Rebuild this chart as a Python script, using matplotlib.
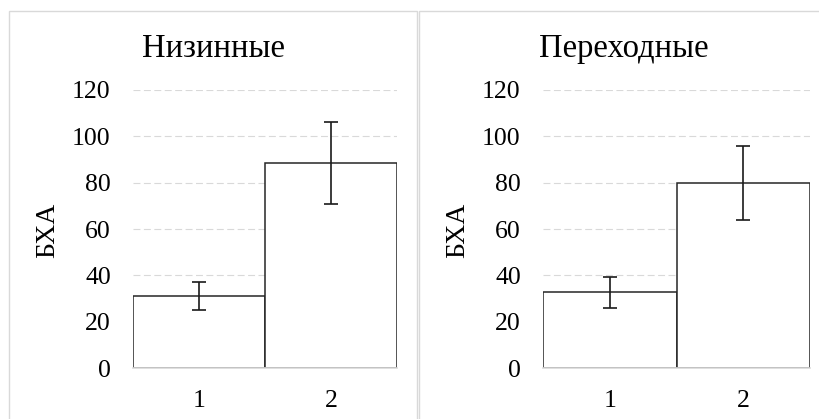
import matplotlib
matplotlib.use("Agg")
import matplotlib.pyplot as plt
from matplotlib.patches import Rectangle

plt.rcParams['font.family'] = ['Liberation Serif', 'DejaVu Serif']
plt.rcParams['lines.scale_dashes'] = False

titles = ["Низинные", "Переходные"]
categories = ["1", "2"]
values = [[31.1, 88.6], [32.7, 80.0]]
errors = [[6.2, 17.6], [6.6, 16.0]]
yticks = [0, 20, 40, 60, 80, 100, 120]
ylabel = "БХА"

W, H = 819, 419
fig = plt.figure(figsize=(W / 100, H / 100), dpi=100)

# panel borders
border = '#d9d9d9'
fig.patches.append(Rectangle((9 / W, -0.1), (417 - 9) / W, 1.1 - 11 / H, transform=fig.transFigure,
                             fill=False, edgecolor=border, linewidth=1.0))
fig.patches.append(Rectangle((419 / W, -0.1), 1.0, 1.1 - 11 / H, transform=fig.transFigure,
                             fill=False, edgecolor=border, linewidth=1.0))

axes_px = [(133, 397), (543, 810)]
title_cx = [213, 624]
ylabel_cx = [48, 458]
ax_bottom, ax_top = 368, 90

for i in range(2):
    x0, x1 = axes_px[i]
    ax = fig.add_axes([x0 / W, (H - ax_bottom) / H, (x1 - x0) / W, (ax_bottom - ax_top) / H])
    pos = list(range(len(categories)))
    ax.bar(pos, values[i], width=1.0, color='white', edgecolor='#262626', linewidth=1.1, zorder=2)
    ax.errorbar(pos, values[i], yerr=errors[i], fmt='none', ecolor='#1a1a1a', elinewidth=1.2,
                capsize=5, capthick=1.2, zorder=3)
    ax.set_xlim(-0.5, 1.5)
    ax.set_ylim(0, 120)
    ax.set_yticks(yticks)
    ax.set_xticks(pos)
    ax.set_xticklabels(categories)
    ax.yaxis.grid(True, color='#d9d9d9', linewidth=0.8, linestyle=(0, (5, 2.5)), zorder=0)
    ax.set_axisbelow(True)
    for s in ['left', 'right', 'top']:
        ax.spines[s].set_visible(False)
    ax.spines['bottom'].set_color('#d9d9d9')
    ax.spines['bottom'].set_linewidth(1.2)
    ax.spines['bottom'].set_zorder(4)
    ax.tick_params(axis='both', length=0, labelsize=18.5, colors='black')
    ax.tick_params(axis='y', pad=16)
    ax.tick_params(axis='x', pad=16)
    ax.patch.set_alpha(0)
    fig.text(title_cx[i] / W, 1 - 57 / H, titles[i], ha='center', va='baseline', fontsize=23.5)
    fig.text(ylabel_cx[i] / W, 1 - 230 / H, ylabel, ha='center', va='center', rotation=90, fontsize=20)

fig.savefig("out.png", dpi=100)
